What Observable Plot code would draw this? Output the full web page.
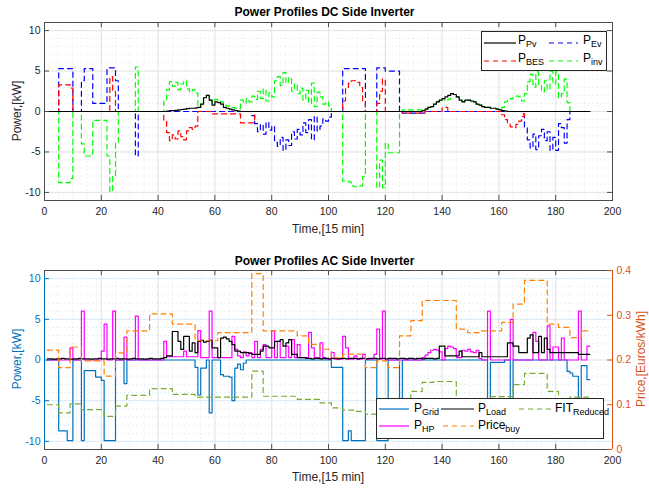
<!DOCTYPE html>
<html><head><meta charset="utf-8">
<script src="https://cdn.jsdelivr.net/npm/d3@7"></script>
<script src="https://cdn.jsdelivr.net/npm/@observablehq/plot@0.6"></script>
<style>
body{margin:0;background:#fff;font-family:"Liberation Sans",Arial,Helvetica,sans-serif;}
#wrap{position:relative;width:649px;height:488px;overflow:hidden;background:#fff;}
.layer{position:absolute;left:0;}
.title{position:absolute;left:0;width:649px;text-align:center;font-weight:bold;font-size:12px;line-height:14px;color:#000;}
.xlab{position:absolute;left:44px;width:568px;text-align:center;font-size:12px;line-height:14px;color:#262626;}
.ylab{position:absolute;width:200px;text-align:center;font-size:12px;line-height:14px;transform:rotate(-90deg);}
.legend{position:absolute;background:#fff;border:1px solid #262626;box-sizing:border-box;}
.legend svg{position:absolute;left:0;top:0;overflow:visible;}
.li{position:absolute;font-size:12px;line-height:12px;color:#000;white-space:nowrap;}
.li sub{font-size:9px;position:relative;top:3px;vertical-align:baseline;}
</style>
</head><body>
<div id="wrap">
  <div id="topPlot" class="layer" style="top:0"></div>
  <div id="botPlot" class="layer" style="top:248px"></div>
  <div id="botPrice" class="layer" style="top:248px"></div>

  <div class="title" style="top:5px">Power Profiles DC Side Inverter</div>
  <div class="title" style="top:254px">Power Profiles AC Side Inverter</div>
  <div class="xlab" style="top:222px">Time,[15 min]</div>
  <div class="xlab" style="top:470px">Time,[15 min]</div>
  <div class="ylab" style="left:-83px;top:104px;color:#262626">Power,[kW]</div>
  <div class="ylab" style="left:-83px;top:352px;color:#0072BD">Power,[kW]</div>
  <div class="ylab" style="left:541px;top:352px;color:#D95319">Price,[Euros/kWh]</div>

  <div class="legend" style="left:481px;top:31px;width:126px;height:40px">
    <svg width="126" height="40">
      <line x1="2" x2="34" y1="11" y2="11" stroke="#000" stroke-width="1.2"/>
      <line x1="67" x2="96" y1="11" y2="11" stroke="#0000FF" stroke-width="1.2" stroke-dasharray="5,4"/>
      <line x1="2" x2="34" y1="29" y2="29" stroke="#FF0000" stroke-width="1.2" stroke-dasharray="5,4"/>
      <line x1="67" x2="96" y1="29" y2="29" stroke="#00FF00" stroke-width="1.2" stroke-dasharray="5,4"/>
    </svg>
    <span class="li" style="left:36px;top:2px">P<sub>Pv</sub></span>
    <span class="li" style="left:101px;top:2px">P<sub>Ev</sub></span>
    <span class="li" style="left:36px;top:20px">P<sub>BES</sub></span>
    <span class="li" style="left:101px;top:20px">P<sub>inv</sub></span>
  </div>

  <div class="legend" style="left:376px;top:398px;width:228px;height:41px">
    <svg width="228" height="41">
      <line x1="2" x2="32" y1="10" y2="10" stroke="#0072BD" stroke-width="1.2"/>
      <line x1="64" x2="97" y1="10" y2="10" stroke="#000" stroke-width="1.2"/>
      <line x1="142" x2="174" y1="10" y2="10" stroke="#77AC30" stroke-width="1.2" stroke-dasharray="5,4"/>
      <line x1="2" x2="32" y1="27" y2="27" stroke="#FF00FF" stroke-width="1.2"/>
      <line x1="66" x2="97" y1="27" y2="27" stroke="#FF8000" stroke-width="1.2" stroke-dasharray="5,4"/>
    </svg>
    <span class="li" style="left:37px;top:3px">P<sub>Grid</sub></span>
    <span class="li" style="left:101px;top:3px">P<sub>Load</sub></span>
    <span class="li" style="left:178px;top:3px">FIT<sub>Reduced</sub></span>
    <span class="li" style="left:37px;top:20px">P<sub>HP</sub></span>
    <span class="li" style="left:101px;top:20px">Price<sub>buy</sub></span>
  </div>
</div>
<script>
// ---------- DATA (15-minute steps 1..192) ----------
const pvDC = [
0,0,0,0,0,0,0,0,0,0,0,0,0,0,0,0,
0,0,0,0,0,0,0,0,0,0,0,0,0,0,0,0,
0,0,0,0,0,0,0,0,0,0,0.05,0.1,0.1,0.15,0.2,0.25,
0.3,0.35,0.4,0.4,0.45,0.5,0.9,1.7,2.0,1.4,0.8,1.2,1.1,0.9,0.5,0.4,
0.3,0.2,0.1,0.05,0,0,0,0,0,0,0,0,0,0,0,0,
0,0,0,0,0,0,0,0,0,0,0,0,0,0,0,0,
0,0,0,0,0,0,0,0,0,0,0,0,0,0,0,0,
0,0,0,0,0,0,0,0,0,0,0,0,0,0,0,0,
0,0,0,0,0.1,0.3,0.5,0.6,0.9,1.2,1.4,1.6,1.8,2.0,2.2,2.1,
1.8,1.4,1.2,1.4,1.4,1.3,1.2,0.9,0.8,0.6,0.5,0.5,0.4,0.4,0.3,0.2,
0.1,0.05,0,0,0,0,0,0,0,0,0,0,0,0,0,0,
0,0,0,0,0,0,0,0,0,0,0,0,0,0,0,0];
const evDC = [
0,0,0,0,5.3,5.3,5.3,5.3,5.3,0,0,0,3.8,5.3,5.3,5.3,
1,1,1,1,1,5.4,5.4,5.4,3.8,0,0,0,0,0,0,-5.5,
0,0,0,0,0,0,0,0,0,0,0,0,0,0,0,0,
0,0,0,0,0,0,0,0,0,0,0,0,0,0,0,0,
0,0,0,0,0,0,0,0,-0.5,-1.5,-2.5,-1.6,-2.8,-1.3,-2.3,-1.8,
-3.8,-4.3,-3.2,-4.8,-3.5,-4.2,-2.5,-3.4,-2.2,-2.9,-1.4,-2.6,-1.0,-3.5,-0.6,-2.4,
-1.8,-0.9,-1.2,-0.7,0,0,0,0,5.3,5.3,5.3,5.3,5.3,5.3,5.3,5.3,
0,0,0,0,5.4,5.4,5.4,5,5,5,5,5,0,-0.2,-0.2,-0.2,
-0.2,-0.2,-0.2,-0.2,-0.2,0,0,0,0,0,0,0,0,0,0,0,
0,0,0,0,0,0,0,0,0,0,0,0,0,0,0,0,
0,0,0,0,0,0,0,-0.3,-2.0,-3.5,-4.5,-2.8,-4.7,-3.0,-2.2,-3.6,
-2.5,-4.8,-3.2,-4.8,-1.5,-2.0,-3.9,-1.0,0,0,0,0,0,0,0,0];
const besDC = [
0,0,0,0,3.3,3.3,3.3,3.3,2.9,0,0,0,0,0,0,0,
0,0,0,0,0,0.2,4.3,2.6,0,0,0,0,0,0,0,0,
0,0,0,0,0,0,0,0,0,-1.2,-2.6,-3.6,-2.9,-3.4,-2.4,-3.1,
-3.5,-2.4,-2.0,-2.2,-1.8,0,0,0,0,0,-0.3,-0.3,-0.3,-0.3,-0.3,-0.3,
-0.3,-0.3,-0.3,-0.3,-1.4,-1.4,-1.4,-1.4,-1.4,0,0,0,0,0,0,0,
0,0,0,0,0,0,0,0,0,0,0,0,0,0,0,0,
0,0,0,0,0,0,0,0,1.3,2.9,3.5,3.8,3.8,3.6,3.0,1.3,
0,0,0,0,1.0,2.5,4.0,0,0,0,0,0,0,-0.2,-0.2,-0.2,
-0.2,-0.2,-0.2,-0.2,-0.2,0,0,0,0,0,0,0.5,0.5,0,0,0,
0,0,0,0,0,0,0,0,0,0,0,0,0,0,0,0,
-0.4,-1.0,-1.5,-1.9,-2.0,-1.6,-1.2,-0.6,0,0,0,0,0,0,0,0,
0,0,0,0,0,0,0,0,0,0,0,0,0,0,0,0];
const invDC = [
0,0,0,0,-8.8,-8.8,-8.8,-8.8,-8.3,0,0,0,-4.0,-5.5,-5.5,-5.5,
-1.1,-1.1,-1.1,-1.1,-1.1,-5.5,-9.9,-8.0,-3.8,0,0,0,0,0,0,5.5,
0,0,0,0,0,0,0,0,0,1.3,2.7,3.7,3.1,3.6,2.7,3.4,
3.8,2.8,2.4,2.7,2.3,0.5,0.9,1.7,2.0,1.4,1.1,1.5,1.4,1.2,0.8,0.7,
0.6,0.5,0.4,0.35,1.4,1.0,1.6,1.2,1.9,1.5,2.5,1.6,2.8,1.3,2.3,1.8,
3.8,4.3,3.2,4.8,3.5,4.2,2.5,3.4,2.2,2.9,1.4,2.6,1.0,3.5,0.6,2.4,
1.8,0.9,1.2,0.7,0,0,0,0,-8.6,-8.6,-8.7,-9.2,-9.3,-9.3,-9.2,-8.0,
0,0,0,0,-9.4,-6.0,-9.4,-3.9,-5.1,-5.1,-5.1,-5.1,0,0.2,0.2,0.2,
0.2,0.2,0.2,0.2,0.3,0.3,0.5,0.6,0.9,1.2,1.4,1.6,1.3,1.5,2.2,2.1,
1.8,1.4,1.2,1.4,1.4,1.3,1.2,0.9,0.8,0.6,0.5,0.5,0.4,0.4,0.3,0.2,
0.5,1.2,1.4,1.6,1.9,1.9,1.8,1.3,2.2,3.7,4.6,3.0,4.9,3.2,2.4,3.8,
2.7,5.0,3.4,4.9,1.7,2.2,4.0,1.1,0,0,0,0,0,0,0,0];

const gridAC = [
0,0,0,0,-8.7,-8.7,-8.7,-9.9,-9.9,0,0,0,-9.9,-1.3,-1.3,-1.3,
-1.3,-2.1,-2.1,-2.5,-9.9,-9.9,-9.9,-9.9,0,0,0,-2.9,0,0,0,0,
0,0,0,0,0,0,0,0,0,0,0,0,0,0,0,0,
0,0,0,0,-0.9,-4.3,-1.0,-1.0,0,-6.5,0,0,0,-1.8,-2.0,-2.0,
-2.1,-5.0,-1.0,-0.5,-1.2,-0.4,0,0,0,0,0,0,0,0,0,0,
0,0,0,0,0,0,0,0,0,0,0,0,0,0,0,0,
0,0,0,0,-0.9,-0.9,-0.9,-0.9,-9.9,-9.9,-8.7,-9.9,-9.9,-9.9,-9.9,-9.9,
0,0,0,0,-9.9,-9.9,-9.9,-9.9,0,0,0,0,-8.0,0,0,0,
0,0,0,0,0,0,0,0,0,0,0,0,0,0,0,0,
0,0,0,0,0,0,0,0,0,0,0,-8.0,-0.3,-0.3,-0.3,-0.3,
-0.3,0,0,-8.0,0,0,0,0,0,0,0,0,0,0,0,0,
0,0,0,0,0,0,0,-1.4,-1.6,-2.0,-2.0,-8.0,-0.7,-0.7,-2.4,-2.4];
const loadAC = [
0.15,0.15,0.1,0.15,0.15,0.2,0.15,0.15,0.1,0.15,0.15,0.2,0.15,0.15,0.15,0.1,
0.15,0.15,0.2,0.15,0.15,0.1,0.15,0.15,0.2,0.15,0.15,0.15,0.1,0.15,0.2,0.15,
0.15,0.15,0.1,0.15,0.2,0.15,0.15,0.15,0.2,0.3,0.5,0.5,3.5,3.5,2.3,1.3,
2.9,2.9,1.1,2.1,0.9,2.3,2.4,2.2,2.3,2.4,1.5,1.5,0.3,2.7,2.8,2.6,
2.3,1.9,1.1,1.1,0.9,0.9,0.9,0.8,0.7,0.7,0.7,1.1,1.7,1.7,1.5,1.5,
2.3,2.3,2.5,1.7,2.1,2.5,0.7,0.7,0.3,0.3,0.3,0.2,0.2,0.15,0.2,0.2,
0.15,0.2,0.2,0.15,0.2,0.2,0.15,0.2,0.2,0.15,0.2,0.2,0.2,0.15,0.2,0.2,
0.15,0.2,0.2,0.2,0.15,0.2,0.2,0.15,0.2,0.2,0.2,0.15,0.2,0.2,0.15,0.2,
0.2,0.15,0.2,0.2,0.15,0.2,0.2,0.2,0.15,0.2,1.7,1.7,0.5,0.5,0.5,0.5,
0.5,1.1,0.4,0.4,0.4,0.4,0.4,0.4,0.9,0.4,0.4,0.4,0.4,0.4,0.4,0.4,
0.4,0.4,2.1,2.1,1.7,1.7,0.9,0.9,0.9,2.7,3.1,0.9,0.9,2.9,0.9,2.7,
1.3,0.9,0.9,0.9,0.9,0.9,0.9,0.9,0.9,0.9,0.9,0.7,0.7,0.7,0.7,0.7];
const hpAC = [
0,0,0,0,0,0,0,0,1.5,0,0,0,6.0,0,0,0,
0,0,0,1.1,4.4,0,0,6.0,0,0,0,2.8,0,0,0,5.4,
0,0,0,0,0,0,0,0,0,2.3,0.4,0.4,0.4,0.4,0.4,0.4,
1.1,0.4,0.4,0.4,0.4,3.6,0.3,0.3,0.3,6.0,0.3,0.3,0.3,0.3,0.3,0.3,
0.3,2.9,1.3,0.5,0.3,1.0,0.5,0.9,0.3,2.3,0.3,1.3,1.9,0.3,0.3,3.6,
0.3,2.3,0.3,0.3,1.7,0.3,2.5,0.3,1.9,0.3,0.3,0.3,3.4,1.5,0.3,0.3,
2.1,0.3,0.1,0.1,0.9,0.1,0.1,0.1,2.9,1.5,0.1,0.1,0.5,0.1,0.1,0.7,
0.1,0.1,0.1,0.7,3.8,0.1,6.0,0,0,0,0,0,0,0,0,0,
0,0,0,0,0.3,0.6,0.9,1.2,1.3,1.2,1.0,0,1.4,1.7,1.6,1.4,
0.3,0.3,1.2,1.1,1.3,1.0,0.9,1.2,0.2,0,0,6.0,0,0,0,0,
0,0,0,5.0,0,0,0,0,0,0,0,3.4,2.3,0,0,0,
4.2,0,1.6,1.6,0,2.7,0,0,0,0,0,6.0,0,0,1.7,1.7];
const priceBuy = [
0.222,0.222,0.222,0.222,0.183,0.183,0.183,0.183,0.229,0.229,0.229,0.229,0.198,0.198,0.198,0.198,
0.198,0.198,0.198,0.198,0.164,0.164,0.164,0.164,0.216,0.216,0.216,0.216,0.265,0.265,0.265,0.265,
0.265,0.265,0.265,0.265,0.303,0.303,0.303,0.303,0.303,0.303,0.303,0.303,0.28,0.28,0.28,0.28,
0.28,0.28,0.28,0.28,0.243,0.243,0.243,0.243,0.243,0.243,0.243,0.243,0.261,0.261,0.261,0.261,
0.261,0.261,0.261,0.261,0.261,0.261,0.261,0.261,0.393,0.393,0.393,0.393,0.265,0.265,0.265,0.265,
0.265,0.265,0.265,0.265,0.265,0.265,0.265,0.265,0.254,0.254,0.254,0.254,0.235,0.235,0.235,0.235,
0.224,0.224,0.224,0.224,0.205,0.205,0.205,0.205,0.213,0.213,0.213,0.213,0.213,0.213,0.213,0.213,
0.183,0.183,0.183,0.183,0.198,0.198,0.198,0.198,0.183,0.183,0.183,0.183,0.254,0.254,0.254,0.254,
0.288,0.288,0.288,0.288,0.333,0.333,0.333,0.333,0.333,0.333,0.333,0.333,0.333,0.333,0.333,0.333,
0.269,0.269,0.269,0.269,0.261,0.261,0.261,0.261,0.265,0.265,0.265,0.265,0.265,0.265,0.265,0.265,
0.284,0.284,0.284,0.284,0.325,0.325,0.325,0.325,0.378,0.378,0.378,0.378,0.378,0.378,0.378,0.378,
0.28,0.28,0.28,0.28,0.273,0.273,0.273,0.273,0.25,0.25,0.25,0.25,0.265,0.265,0.265,0.265];
const fitReduced = [
0.100,0.100,0.100,0.100,0.082,0.082,0.082,0.082,0.102,0.102,0.102,0.102,0.089,0.089,0.089,0.089,
0.089,0.089,0.089,0.089,0.074,0.074,0.074,0.074,0.097,0.097,0.097,0.097,0.121,0.121,0.121,0.121,
0.121,0.121,0.121,0.121,0.136,0.136,0.136,0.136,0.136,0.136,0.136,0.136,0.123,0.123,0.123,0.123,
0.123,0.123,0.123,0.123,0.117,0.117,0.117,0.117,0.117,0.117,0.117,0.117,0.117,0.117,0.117,0.117,
0.117,0.117,0.117,0.117,0.117,0.117,0.117,0.117,0.175,0.175,0.175,0.175,0.119,0.119,0.119,0.119,
0.119,0.119,0.119,0.119,0.119,0.119,0.119,0.119,0.112,0.112,0.112,0.112,0.112,0.112,0.112,0.112,
0.104,0.104,0.104,0.104,0.093,0.093,0.093,0.093,0.088,0.088,0.088,0.088,0.085,0.085,0.085,0.085,
0.079,0.079,0.079,0.079,0.079,0.079,0.079,0.079,0.100,0.100,0.100,0.100,0.113,0.113,0.113,0.113,
0.130,0.130,0.130,0.130,0.150,0.150,0.150,0.150,0.152,0.152,0.152,0.152,0.152,0.152,0.152,0.152,
0.113,0.113,0.113,0.113,0.113,0.113,0.113,0.113,0.113,0.113,0.113,0.113,0.118,0.118,0.118,0.118,
0.118,0.118,0.118,0.118,0.145,0.145,0.145,0.145,0.170,0.170,0.170,0.170,0.170,0.170,0.170,0.170,
0.130,0.130,0.130,0.130,0.113,0.113,0.113,0.113,0.117,0.117,0.117,0.117,0.117,0.117,0.117,0.117];

const xTicks = [0,20,40,60,80,100,120,140,160,180,200];
const yTicks = [-10,-5,0,5,10];
const priceTicks = [0,0.1,0.2,0.3,0.4];

// ---------- CHART ----------
const FONT = "'Liberation Sans', Arial, Helvetica, sans-serif";
const X_DOM = [0, 200], Y_DOM = [-11, 11], P_DOM = [0, 0.4];
const xMinor = d3.range(0, 201, 5), yMinor = d3.range(-11, 12, 1);
const TKY = 0.62, TKX = 1.76;
const dash = "5,4";
const frameC = "#4d4d4d";

const dc = pvDC.map((v, i) => ({t: i + 1, pv: v, ev: evDC[i], bes: besDC[i], inv: invDC[i]}));
const ac = gridAC.map((v, i) => ({t: i + 1, grid: v, load: loadAC[i], hp: hpAC[i], price: priceBuy[i], fit: fitReduced[i]}));

const dims = {width: 649, height: 240, marginLeft: 44, marginRight: 37, marginTop: 22};
const style = {fontFamily: FONT, fontSize: "10.5px", color: "#262626", background: "transparent", overflow: "visible"};
const stepLine = (data, y, stroke, dashed) => Plot.line(data, {x: "t", y, curve: "step-after", stroke, strokeWidth: 1.2, strokeDasharray: dashed ? dash : null});

const topChart = Plot.plot({
  ...dims, marginBottom: 40, style,
  x: {domain: X_DOM}, y: {domain: Y_DOM},
  marks: [
    Plot.ruleX(xMinor, {stroke: "#e4e4e4", strokeDasharray: "1,3"}),
    Plot.ruleY(yMinor, {stroke: "#e4e4e4", strokeDasharray: "1,3"}),
    Plot.ruleX(xTicks, {stroke: "#e3e3e3"}),
    Plot.ruleY(yTicks, {stroke: "#e3e3e3"}),
    stepLine(dc, "ev", "#0000FF", true),
    stepLine(dc, "bes", "#FF0000", true),
    stepLine(dc, "inv", "#00FF00", true),
    stepLine(dc, "pv", "#000000", false),
    Plot.frame({stroke: frameC}),
    Plot.ruleX(xTicks, {y1: Y_DOM[0], y2: Y_DOM[0] + TKY, stroke: frameC}),
    Plot.ruleX(xTicks, {y1: Y_DOM[1] - TKY, y2: Y_DOM[1], stroke: frameC}),
    Plot.ruleY(yTicks, {x1: X_DOM[0], x2: X_DOM[0] + TKX, stroke: frameC}),
    Plot.ruleY(yTicks, {x1: X_DOM[1] - TKX, x2: X_DOM[1], stroke: frameC}),
    Plot.axisX({ticks: xTicks, tickSize: 0, tickPadding: 7, tickFormat: d => String(d), label: null}),
    Plot.axisY({ticks: yTicks, tickSize: 0, tickPadding: 4, tickFormat: d => String(d), label: null})
  ]
});
document.getElementById("topPlot").append(topChart);

const botChart = Plot.plot({
  ...dims, marginBottom: 39, style,
  x: {domain: X_DOM}, y: {domain: Y_DOM},
  marks: [
    Plot.ruleX(xMinor, {stroke: "#e4e4e4", strokeDasharray: "1,3"}),
    Plot.ruleY(yMinor, {stroke: "#d3e5f3", strokeDasharray: "1,3"}),
    Plot.ruleX(xTicks, {stroke: "#e3e3e3"}),
    Plot.ruleY(yTicks, {stroke: "#dbebf6"}),
    stepLine(ac, "grid", "#0072BD", false),
    stepLine(ac, "hp", "#FF00FF", false),
    stepLine(ac, "load", "#000000", false),
    Plot.ruleY([Y_DOM[0], Y_DOM[1]], {stroke: frameC}),
    Plot.ruleX([X_DOM[0]], {stroke: "#0072BD"}),
    Plot.ruleX(xTicks, {y1: Y_DOM[0], y2: Y_DOM[0] + TKY, stroke: frameC}),
    Plot.ruleX(xTicks, {y1: Y_DOM[1] - TKY, y2: Y_DOM[1], stroke: frameC}),
    Plot.ruleY(yTicks, {x1: X_DOM[0], x2: X_DOM[0] + TKX, stroke: "#0072BD"}),
    Plot.axisX({ticks: xTicks, tickSize: 0, tickPadding: 7, tickFormat: d => String(d), label: null}),
    Plot.axisY({ticks: yTicks, tickSize: 0, tickPadding: 4, tickFormat: d => String(d), label: null, color: "#0072BD"})
  ]
});
document.getElementById("botPlot").append(botChart);

const priceChart = Plot.plot({
  ...dims, marginBottom: 39, style,
  x: {domain: X_DOM, axis: null}, y: {domain: P_DOM},
  marks: [
    stepLine(ac, "fit", "#77AC30", true),
    stepLine(ac, "price", "#FF8000", true),
    Plot.ruleX([X_DOM[1]], {stroke: "#D95319"}),
    Plot.ruleY(priceTicks, {x1: X_DOM[1] - TKX, x2: X_DOM[1], stroke: "#D95319"}),
    Plot.axisY({anchor: "right", ticks: priceTicks, tickSize: 0, tickPadding: 4, tickFormat: d => String(d), label: null, color: "#D95319"})
  ]
});
document.getElementById("botPrice").append(priceChart);
</script>
</body></html>
